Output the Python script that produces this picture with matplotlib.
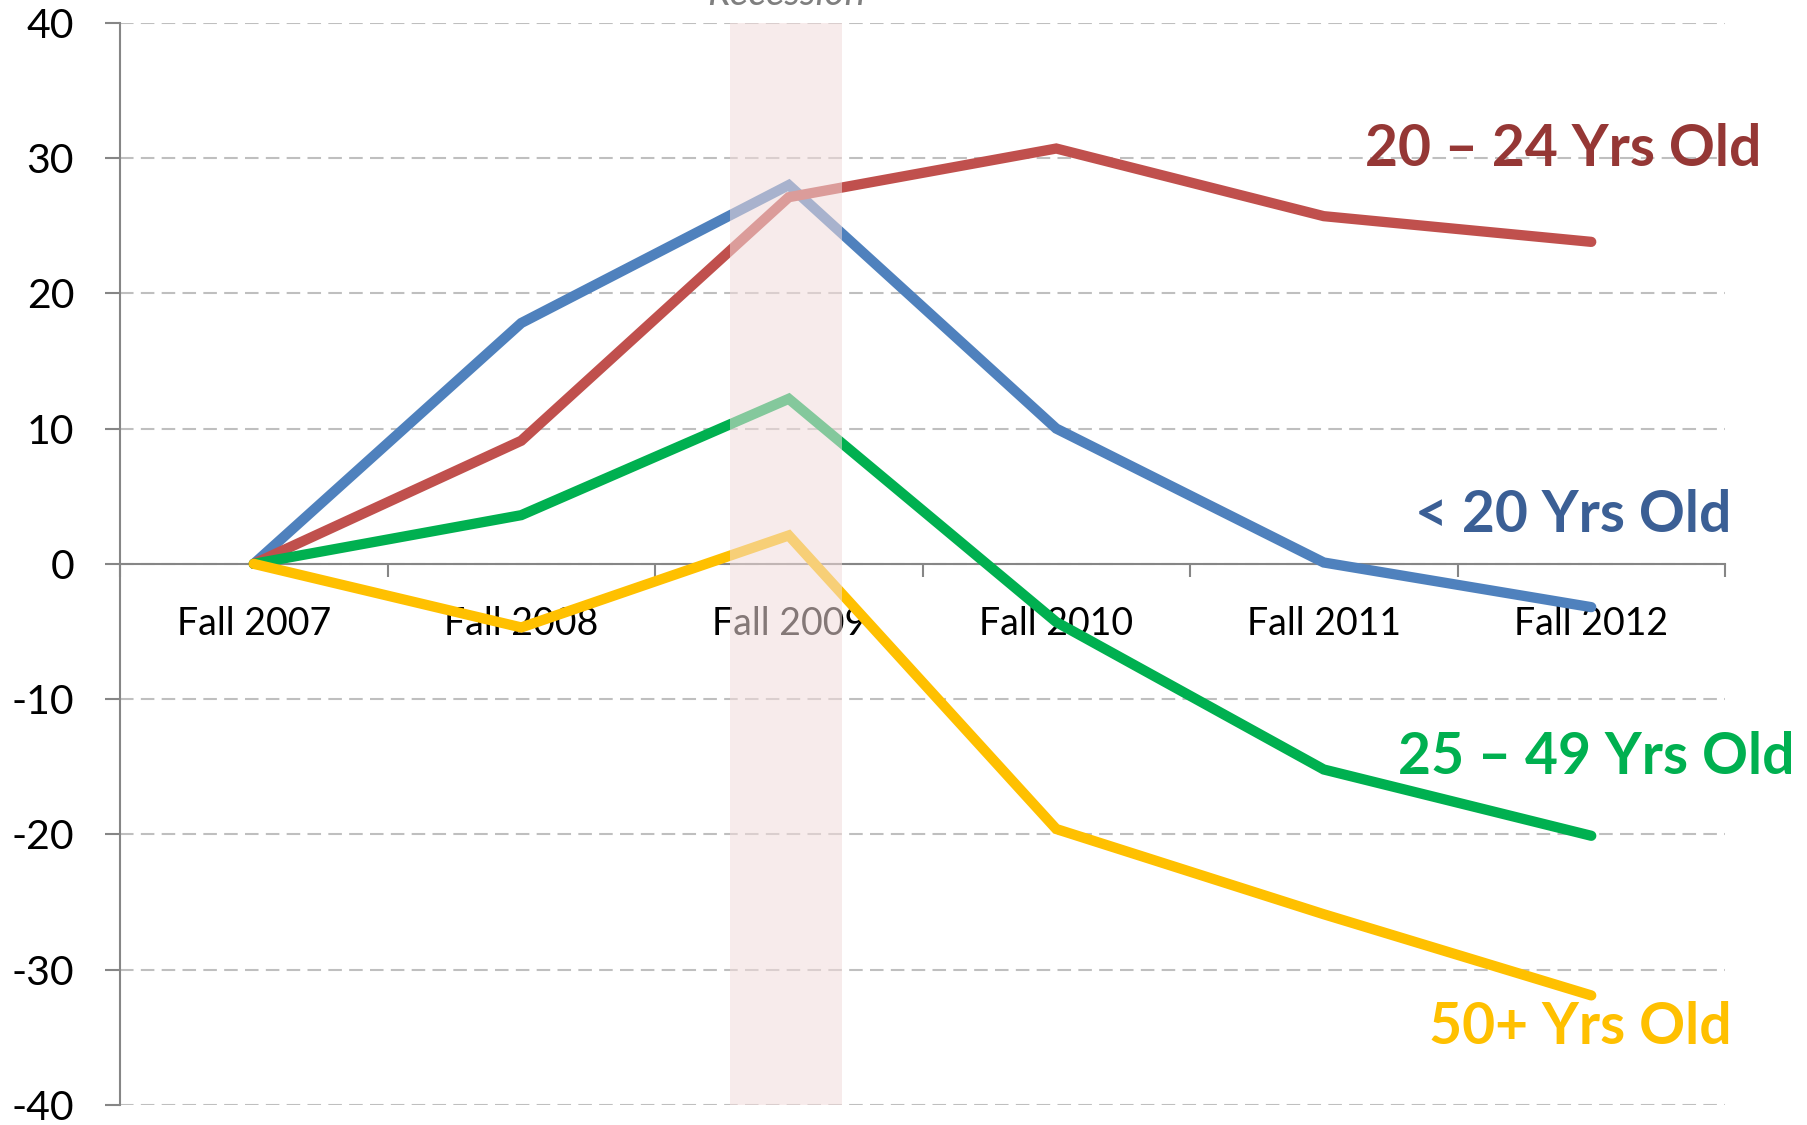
import matplotlib
matplotlib.use("Agg")
import matplotlib.pyplot as plt
from matplotlib.patches import Rectangle
from matplotlib.ticker import FixedLocator

plt.rcParams['font.family'] = ['Lato', 'DejaVu Sans']

categories = ["Fall 2007", "Fall 2008", "Fall 2009", "Fall 2010", "Fall 2011", "Fall 2012"]
under_20 = [0, 17.8, 28.0, 10.0, 0.1, -3.2]
age_20_24 = [0, 9.1, 27.1, 30.7, 25.7, 23.8]
age_25_49 = [0, 3.6, 12.2, -4.3, -15.2, -20.1]
age_50_plus = [0, -4.7, 2.1, -19.6, -25.9, -31.9]
series_labels = ["< 20 Yrs Old", "20 \u2013 24 Yrs Old", "25 \u2013 49 Yrs Old", "50+ Yrs Old"]
yticks = [-40, -30, -20, -10, 0, 10, 20, 30, 40]
recession = (1.78, 2.2)

W, H = 1807, 1125
fig = plt.figure(figsize=(W / 100, H / 100), dpi=100)
ax = fig.add_axes([120 / W, 1 - 1105 / H, (1725 - 120) / W, (1105 - 22.7) / H])

x = list(range(len(categories)))
line_colors = ["#4F81BD", "#C0504D", "#00B050", "#FFC000"]
data = [under_20, age_20_24, age_25_49, age_50_plus]
for i in range(len(data)):
    ax.plot(x, data[i], color=line_colors[i], lw=7.4, solid_capstyle='round',
            solid_joinstyle='miter', zorder=3 + i * 0.1)

ax.set_xlim(-0.5, len(categories) - 0.5)
ax.set_ylim(-40, 40)

# recession band on top (semi-transparent)
ax.add_patch(Rectangle((recession[0], -40), recession[1] - recession[0], 80,
                       facecolor="#F2DCDB", alpha=0.55, edgecolor='none',
                       zorder=10, clip_on=False))
ax.text((recession[0] + recession[1]) / 2, 1.0164, "Recession", transform=ax.get_xaxis_transform(),
        ha='center', va='baseline', fontsize=28, style='italic', color='#7F7F7F')

# axes styling
for s in ['top', 'right']:
    ax.spines[s].set_visible(False)
ax.spines['bottom'].set_position(('data', 0))
for s in ['left', 'bottom']:
    ax.spines[s].set_color('#868686')
    ax.spines[s].set_linewidth(1.5)

ax.set_yticks(yticks)
ax.set_yticklabels([str(v) for v in yticks])
ax.tick_params(axis='y', direction='out', length=11, width=1.5, color='#868686',
               labelsize=29.5, pad=22, labelcolor='black')

ax.xaxis.set_major_locator(FixedLocator([i + 0.5 for i in range(-1, len(categories))]))
ax.xaxis.set_minor_locator(FixedLocator(x))
ax.set_xticklabels([''] * (len(categories) + 1))
ax.set_xticklabels(categories, minor=True)
ax.tick_params(axis='x', which='major', direction='out', length=9.5, width=1.5, color='#868686')
ax.tick_params(axis='x', which='minor', length=0, labelsize=27, pad=30, labelcolor='black')

ax.yaxis.grid(True, linestyle=(0, (6.5, 3.5)), linewidth=1.5, color='#BFBFBF', zorder=0)
ax.set_axisbelow(True)

# series labels
lab_colors = ["#3B5F95", "#953735", "#00B050", "#FFC000"]
lab_pos = [(1731, 515), (1761, 150), (1794, 757), (1732, 1028)]
for lab, c, (px, py) in zip(series_labels, lab_colors, lab_pos):
    fig.text(px / W, 1 - py / H, lab, ha='right', va='center', fontsize=41,
             fontweight='bold', color=c)

fig.savefig("out.png", dpi=100)
